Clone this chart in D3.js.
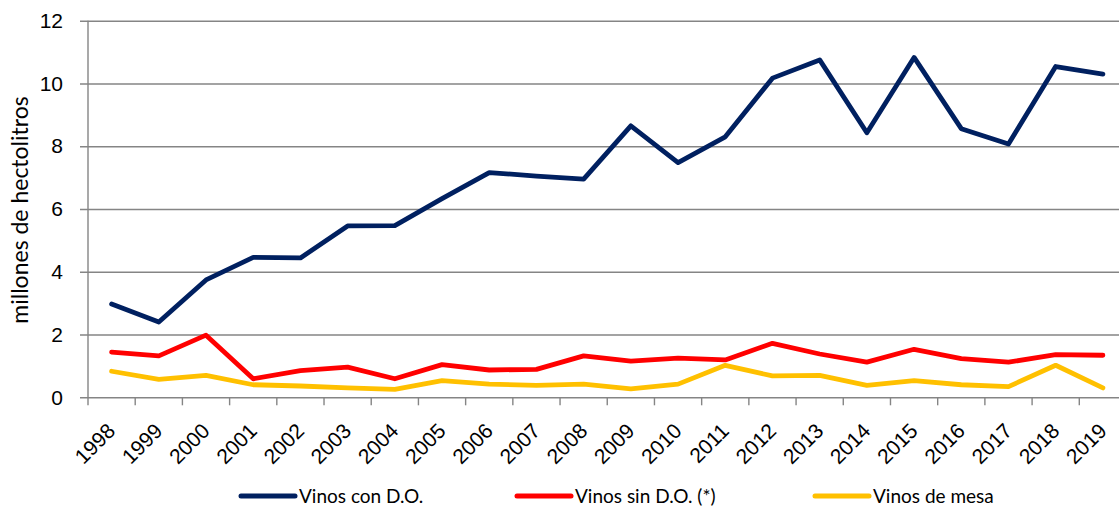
<!DOCTYPE html>
<html>
<head>
<meta charset="utf-8">
<script src="https://cdn.jsdelivr.net/npm/d3@7"></script>
<style>
  body { margin: 0; background: #fff; }
  svg { display: block; font-family: Lato, "Noto Sans", sans-serif; }
</style>
</head>
<body>
<div id="chart"></div>
<script>
// years on the x axis
var years = ["1998","1999","2000","2001","2002","2003","2004","2005","2006","2007","2008",
             "2009","2010","2011","2012","2013","2014","2015","2016","2017","2018","2019"];

// millones de hectolitros
var conDO = [2.97, 2.40, 3.74, 4.46, 4.44, 5.46, 5.47, 6.33, 7.16, 7.05, 6.95,
             8.65, 7.48, 8.30, 10.17, 10.75, 8.43, 10.83, 8.56, 8.07, 10.54, 10.30];
var sinDO = [1.44, 1.32, 1.98, 0.59, 0.85, 0.96, 0.59, 1.04, 0.87, 0.89, 1.32,
             1.15, 1.25, 1.19, 1.72, 1.38, 1.12, 1.53, 1.23, 1.12, 1.36, 1.34];
var mesa  = [0.83, 0.57, 0.70, 0.40, 0.36, 0.30, 0.25, 0.53, 0.42, 0.38, 0.42,
             0.27, 0.42, 1.02, 0.68, 0.70, 0.38, 0.53, 0.40, 0.34, 1.02, 0.30];

var seriesNames = ["Vinos con D.O.", "Vinos sin D.O. (*)", "Vinos de mesa"];
var seriesColors = ["#002060", "#ff0000", "#ffc000"];
var yTicks = [0, 2, 4, 6, 8, 10, 12];

var series = [conDO, sinDO, mesa];

var W = 1119, H = 509;
// plot box (right edge runs past the picture, as in the reference)
var plotL = 88, plotR = 1126.5, plotT = 20.7, plotB = 397.3;

var svg = d3.select("#chart").append("svg")
    .attr("width", W)
    .attr("height", H);

var x = d3.scaleBand()
    .domain(years)
    .range([plotL, plotR]);

var y = d3.scaleLinear()
    .domain([0, 12])
    .range([plotB, plotT]);

// horizontal gridlines + y labels
var yAxis = svg.append("g")
    .attr("transform", "translate(80,0)")
    .call(d3.axisLeft(y)
        .tickValues(yTicks)
        .tickSize(-(plotR - 80))
        .tickPadding(17)
        .tickFormat(d3.format("d")));

yAxis.select(".domain").remove();
yAxis.selectAll(".tick line")
    .attr("stroke", "#858585")
    .attr("stroke-width", 1.4);
yAxis.selectAll(".tick text")
    .attr("fill", "#000")
    .style("font-size", "21px");

// vertical axis line
svg.append("line")
    .attr("x1", plotL).attr("x2", plotL)
    .attr("y1", plotT).attr("y2", plotB)
    .attr("stroke", "#858585")
    .attr("stroke-width", 1.4);

// x tick marks sit between categories
var tickPos = years.map(function(d){ return x(d); }).concat([plotR]);
svg.append("g").selectAll("line")
    .data(tickPos)
    .enter().append("line")
    .attr("x1", function(d){ return d; })
    .attr("x2", function(d){ return d; })
    .attr("y1", plotB)
    .attr("y2", plotB + 8)
    .attr("stroke", "#858585")
    .attr("stroke-width", 1.4);

// x labels, rotated
var xAxis = svg.append("g")
    .attr("transform", "translate(0," + plotB + ")")
    .call(d3.axisBottom(x).tickSize(0).tickPadding(0));
xAxis.select(".domain").remove();
xAxis.selectAll(".tick text")
    .attr("fill", "#000")
    .style("font-size", "21px")
    .attr("text-anchor", "end")
    .attr("dy", 0)
    .attr("y", 0)
    .attr("transform", "translate(5,35) rotate(-45)");

// y axis title
svg.append("text")
    .attr("transform", "translate(28,210) rotate(-90)")
    .attr("text-anchor", "middle")
    .style("font-size", "23px")
    .text("millones de hectolitros");

// the three lines
var line = d3.line()
    .x(function(d, i){ return x(years[i]) + x.bandwidth() / 2; })
    .y(function(d){ return y(d); });

svg.append("g").selectAll("path")
    .data(series)
    .enter().append("path")
    .attr("d", line)
    .attr("fill", "none")
    .attr("stroke", function(d, i){ return seriesColors[i]; })
    .attr("stroke-width", 4.8)
    .attr("stroke-linejoin", "round")
    .attr("stroke-linecap", "round");

// legend
var legendX = [240, 516, 814];
var legend = svg.append("g").selectAll("g")
    .data(seriesNames)
    .enter().append("g")
    .attr("transform", function(d, i){ return "translate(" + legendX[i] + ",496)"; });

legend.append("line")
    .attr("x1", 1).attr("x2", 55)
    .attr("y1", 0).attr("y2", 0)
    .attr("stroke", function(d, i){ return seriesColors[i]; })
    .attr("stroke-width", 5)
    .attr("stroke-linecap", "round");

legend.append("text")
    .attr("x", 59)
    .attr("y", 0)
    .attr("dy", "0.35em")
    .style("font-size", "19px")
    .text(function(d){ return d; });
</script>
</body>
</html>
